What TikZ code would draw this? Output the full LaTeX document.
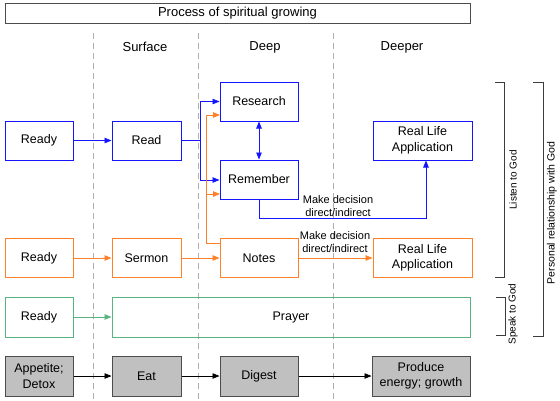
\documentclass[tikz,border=0pt]{standalone}
\usepackage{fontspec}
\setmainfont{Liberation Sans}
\usetikzlibrary{arrows.meta}
\definecolor{cblue}{RGB}{20,20,255}
\definecolor{corange}{RGB}{255,128,40}
\definecolor{cgreen}{RGB}{90,180,130}
\definecolor{cgrayfill}{RGB}{192,192,192}
\definecolor{cdash}{RGB}{175,175,175}
\definecolor{cbrack}{RGB}{60,60,60}
\tikzset{
  box/.style={draw, line width=1pt, inner sep=1pt, align=center, font=\fontsize{12.5}{15.5}\selectfont},
  bbox/.style={box, draw=cblue},
  obox/.style={box, draw=corange},
  gbox/.style={box, draw=cgreen},
  kbox/.style={box, draw=black!70, fill=cgrayfill},
  tip/.style={-{Triangle[length=7pt,width=5.5pt]}},
  barrow/.style={tip, draw=cblue, line width=0.8pt},
  oarrow/.style={tip, draw=corange, line width=0.8pt},
  garrow/.style={tip, draw=cgreen, line width=0.8pt},
  karrow/.style={tip, draw=black, line width=0.7pt},
  sep/.style={draw=cdash, line width=1pt, dash pattern=on 6pt off 4pt},
  brack/.style={draw=cbrack, line width=0.8pt},
  lbl/.style={font=\fontsize{11}{13}\selectfont, align=center, inner sep=0pt},
  rlbl/.style={font=\fontsize{10}{12}\selectfont, inner sep=0pt, rotate=90},
  col/.style={font=\fontsize{13}{15}\selectfont, inner sep=0pt},
}
\begin{document}
\begin{tikzpicture}[x=1pt,y=-1pt]
\useasboundingbox (0,0) rectangle (560,400);
% separators
\draw[sep] (93,33) -- (93,400);
\draw[sep] (198,33) -- (198,400);
\draw[sep] (333,33) -- (333,400);
% title
\node[draw=black!70, line width=1pt, minimum width=465pt, minimum height=20pt, inner sep=0pt, font=\fontsize{13}{15}\selectfont] (title) at (237.5,13) {Process of spiritual growing};
% column labels
\node[col] (surface) at (145,47) {Surface};
\node[col] (deep) at (265,47) {Deep};
\node[col] (deeper) at (402,47) {Deeper};
% blue row
\node[bbox, minimum width=68pt, minimum height=39pt] (ready1) at (39,140.5) {Ready};
\node[bbox, minimum width=69pt, minimum height=39pt] (read) at (146.5,140.5) {Read};
\node[bbox, minimum width=78pt, minimum height=39pt] (research) at (259,101.5) {Research};
\node[bbox, minimum width=78pt, minimum height=39pt] (remember) at (259,179.5) {Remember};
\node[bbox, minimum width=99pt, minimum height=39pt] (rla1) at (422.5,140.5) {Real Life\\Application};
% orange row
\node[obox, minimum width=68pt, minimum height=39pt] (ready2) at (39,258) {Ready};
\node[obox, minimum width=69pt, minimum height=39pt] (sermon) at (146.5,258) {Sermon};
\node[obox, minimum width=78pt, minimum height=39pt] (notes) at (259,258) {Notes};
\node[obox, minimum width=99pt, minimum height=39pt] (rla2) at (422.5,258) {Real Life\\Application};
% green row
\node[gbox, minimum width=68pt, minimum height=40pt] (ready3) at (39,317) {Ready};
\node[gbox, minimum width=358pt, minimum height=40pt] (prayer) at (291,317) {Prayer};
% gray row
\node[kbox, minimum width=68pt, minimum height=40pt] (appetite) at (39,376) {Appetite;\\Detox};
\node[kbox, minimum width=69pt, minimum height=40pt] (eat) at (146.5,376) {Eat};
\node[kbox, minimum width=78pt, minimum height=40pt] (digest) at (259,376) {Digest};
\node[kbox, minimum width=98pt, minimum height=40pt] (produce) at (421,376) {Produce\\energy; growth};
% blue connectors
\coordinate (bj) at (200,140.5);
\draw[barrow] (ready1) -- (read);
\draw[draw=cblue, line width=0.8pt] (read.east) -- (bj);
\draw[barrow] (bj) |- (research.west);
\draw[barrow] (bj) |- ([yshift=-0.5pt]remember.west);
\draw[draw=cblue, line width=0.8pt, {Triangle[length=7pt,width=5.5pt]}-{Triangle[length=7pt,width=5.5pt]}] (research.south) -- (remember.north);
\coordinate (rb) at (259,218);
\draw[barrow] (remember.south) -- (rb) -| ([xshift=3.5pt]rla1.south);
\node[lbl] (lab1) at (338,206) {Make decision\\direct/indirect};
% orange connectors
\coordinate (nw) at (220,243);
\coordinate (oj) at (206,243);
\coordinate (rsw) at (220,115);
\coordinate (rmw) at (220,194);
\draw[draw=corange, line width=0.8pt] (nw) -- (oj);
\draw[oarrow] (oj) |- (rsw);
\draw[oarrow] (oj) |- (rmw);
\draw[oarrow] (ready2) -- (sermon);
\draw[oarrow] (sermon) -- (notes);
\draw[oarrow] (notes) -- (rla2);
\node[lbl] (lab2) at (335,242.5) {Make decision\\direct/indirect};
% green connector
\draw[garrow] (ready3) -- (prayer);
% gray connectors
\draw[karrow] (appetite) -- (eat);
\draw[karrow] (eat) -- (digest);
\draw[karrow] (digest) -- (produce);
% brackets
\draw[brack] (495,82) -- (504,82) -- (504,277) -- (495,277);
\draw[brack] (496,297) -- (505,297) -- (505,335) -- (496,335);
\draw[brack] (533,82) -- (543,82) -- (543,336) -- (533,336);
\node[rlbl] (listen) at (513,180) {Listen to God};
\node[rlbl] (speak) at (513,314) {Speak to God};
\node[rlbl, font=\fontsize{10.5}{12}\selectfont] (personal) at (552,213) {Personal relationship with God};
\end{tikzpicture}
\end{document}
